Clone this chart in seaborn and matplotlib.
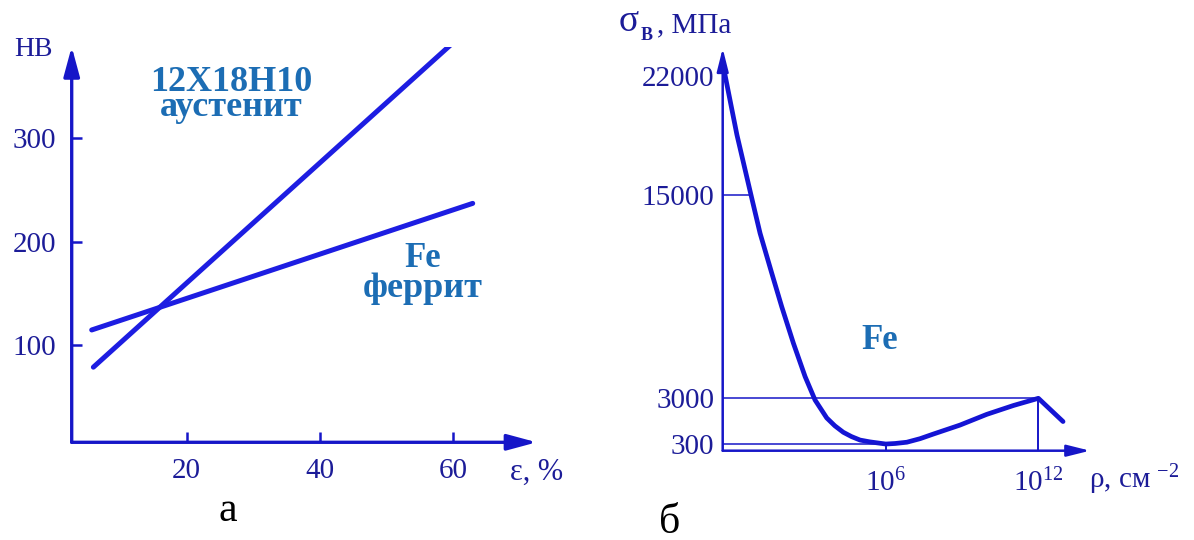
import numpy as np
import pandas as pd
import matplotlib.pyplot as plt
import seaborn as sns

# panel a: hardness HB vs deformation
eps_aust = [6.0, 59.7]
hb_aust = [78.5, 391.0]
eps_ferr = [5.75, 62.9]
hb_ferr = [114.5, 237.0]
hb_ticks = [100, 200, 300]
eps_ticks = [20, 40, 60]

# panel b: strength vs dislocation density (log10 of rho, cm^-2)
rho_exp = [-0.36, 0.15, 0.73, 1.06, 1.52, 1.91, 2.37, 2.83, 3.22, 3.68,
           4.0, 4.33, 4.65, 4.99, 5.38, 6.0, 6.37, 6.83, 7.35, 7.87, 8.92,
           9.97, 11.02, 12.0, 12.97]
sigma = [22400, 18550, 14830, 12740, 10380, 8410, 6250, 4280, 2900, 1840,
         1374, 995, 742, 534, 426, 300, 332, 407, 616, 888, 1419,
         2051, 2575, 3000, 1627]
sigma_ticks = [300, 3000, 15000, 22000]
sigma_ticklabels = ["300", "3000", "15000", "22000"]
rho_ticks = [1e6, 1e12]
rho_ticklabels = ["$10^{6}$", "$10^{12}$"]
# guide lines: level and rho where it meets the curve
guide_levels = [15000, 3000, 300]
guide_rho = [10 ** 0.73, 1e12, 1e6]

sns.set_theme(style="white")
plt.rcParams["font.family"] = ["Liberation Serif", "DejaVu Serif"]
plt.rcParams["mathtext.fontset"] = "custom"
plt.rcParams["mathtext.rm"] = "Liberation Serif"
plt.rcParams["mathtext.it"] = "Liberation Serif:italic"
plt.rcParams["mathtext.bf"] = "Liberation Serif:bold"

W, H = 1194, 540
AX_BLUE = "#1616c8"
LINE_BLUE = "#1d1de2"
TICK_NAVY = "#1c1c98"
ANNOT = "#1c6db4"

fig = plt.figure(figsize=(W / 100, H / 100), dpi=100)


def fx(x):
    return x / W


def fy(y):
    return 1 - y / H


def axis_arrows(ax, lw, hl, hw, scale):
    for xy in [(1, 0), (0, 1)]:
        ax.annotate("", xy=xy, xytext=(0, 0), xycoords="axes fraction",
                    arrowprops=dict(arrowstyle=f"-|>,head_length={hl},head_width={hw}",
                                    lw=lw, color=AX_BLUE, shrinkA=0, shrinkB=0,
                                    mutation_scale=scale),
                    annotation_clip=False)


# ---------- panel a ----------
ax1 = fig.add_axes([fx(71.7), fy(442.3), fx(536.7 - 71.7), (442.3 - 46.7) / H])
df = pd.DataFrame({
    "eps": eps_aust + eps_ferr,
    "hb": hb_aust + hb_ferr,
    "mat": ["aust"] * 2 + ["ferr"] * 2,
})
sns.lineplot(data=df, x="eps", y="hb", hue="mat", palette=[LINE_BLUE, LINE_BLUE],
             legend=False, linewidth=3.6, ax=ax1, solid_capstyle="round")
ax1.set_xlim(2.75, 72.5)
ax1.set_ylim(5.8, 388.6)
for s in ax1.spines.values():
    s.set_visible(False)
axis_arrows(ax1, 2.4, 1.0, 0.27, 18)
ax1.set_xticks(eps_ticks)
ax1.set_yticks(hb_ticks)
ax1.set_xticklabels([str(v) for v in eps_ticks])
ax1.set_yticklabels([str(v) for v in hb_ticks])
ax1.tick_params(axis="both", direction="in", length=7, width=1.8, color=AX_BLUE,
                labelcolor=TICK_NAVY, labelsize=21)
ax1.tick_params(axis="y", pad=11, left=True)
ax1.tick_params(axis="x", pad=11, bottom=True)
ax1.set_xlabel("")
ax1.set_ylabel("")
ax1.text(26.75, 342, "12X18H10\nаустенит", color=ANNOT, fontsize=26,
         fontweight="bold", ha="center", va="center", multialignment="center",
         linespacing=0.7)
ax1.text(55.4, 183.5, "Fe", color=ANNOT, fontsize=25, fontweight="bold",
         ha="center", va="center")
ax1.text(55.4, 146, "феррит", color=ANNOT, fontsize=26, fontweight="bold",
         ha="center", va="baseline")
fig.text(fx(33), fy(50), "HB", color=TICK_NAVY, fontsize=20, ha="center", va="center")
fig.text(fx(536.7), fy(472), "ε, %", color=TICK_NAVY, fontsize=22, ha="center", va="center")
fig.text(fx(228), fy(511), "а", color="black", fontsize=30, ha="center", va="center")

# ---------- panel b ----------
ax2 = fig.add_axes([fx(722.7), fy(450.7), fx(1090 - 722.7), (450.7 - 48.3) / H])
rho = 10.0 ** np.array(rho_exp)
sns.lineplot(x=rho, y=sigma, sort=False, color="#1414d4", linewidth=3.4, ax=ax2)
for ln in ax2.get_lines():
    ln.set_solid_joinstyle("round")
    ln.set_solid_capstyle("round")
ax2.set_xscale("log")
x_lo, y_lo = 10 ** -0.41, -94
ax2.set_xlim(x_lo, 10 ** 14.03)
ax2.set_ylim(y_lo, 23664)
for s in ax2.spines.values():
    s.set_visible(False)
axis_arrows(ax2, 1.8, 1.0, 0.25, 14)
for lev, r in zip(guide_levels, guide_rho):
    ax2.hlines(lev, x_lo, r, color=AX_BLUE, lw=1.1)
ax2.vlines(guide_rho[1], y_lo, guide_levels[1], color=AX_BLUE, lw=1.4)
ax2.vlines(guide_rho[2], y_lo, guide_levels[2], color=AX_BLUE, lw=1.4)
ax2.set_yticks(sigma_ticks)
ax2.set_yticklabels(sigma_ticklabels)
ax2.set_xticks(rho_ticks)
ax2.set_xticklabels(rho_ticklabels)
ax2.minorticks_off()
ax2.tick_params(axis="both", length=0, labelcolor=TICK_NAVY, labelsize=21)
ax2.tick_params(axis="y", pad=6)
ax2.tick_params(axis="x", pad=13)
ax2.text(10 ** 5.78, 6394, "Fe", color=ANNOT, fontsize=25, fontweight="bold",
         ha="center", va="center")
fig.text(fx(629), fy(22), "σ", color=TICK_NAVY, fontsize=27, ha="center", va="center")
fig.text(fx(647), fy(35), "В", color=TICK_NAVY, fontsize=13, fontweight="bold",
         ha="center", va="center")
fig.text(fx(657), fy(25), ", МПа", color=TICK_NAVY, fontsize=21, ha="left", va="center")
fig.text(fx(1134), fy(480), "ρ, см $^{-2}$", color=TICK_NAVY, fontsize=21,
         ha="center", va="center")
fig.text(fx(670), fy(523), "б", color="black", fontsize=30, ha="center", va="center")

fig.savefig("out.png", dpi=100, facecolor="white")
